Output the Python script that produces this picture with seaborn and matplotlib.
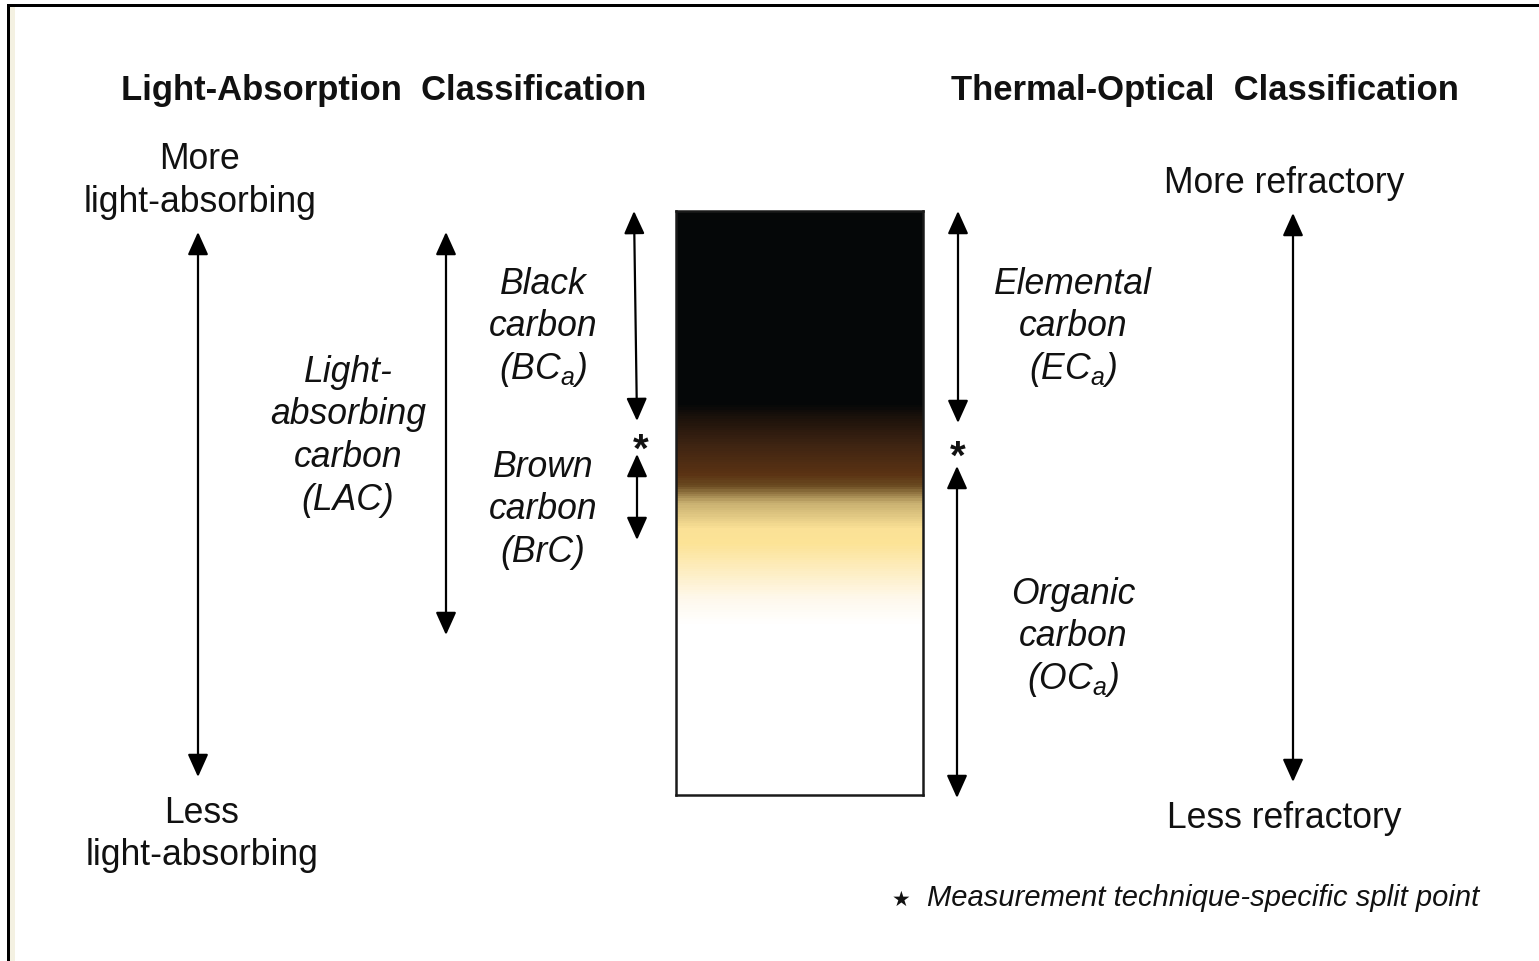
import numpy as np
import matplotlib
matplotlib.use('Agg')
import matplotlib.pyplot as plt
import seaborn as sns
from matplotlib.colors import LinearSegmentedColormap
from matplotlib.patches import Rectangle

# headings
left_title = 'Light-Absorption  Classification'
right_title = 'Thermal-Optical  Classification'

# scale labels
left_top = ['More', 'light-absorbing']
left_bottom = ['Less', 'light-absorbing']
right_top = ['More refractory']
right_bottom = ['Less refractory']

# italic class labels
class_labels = {
    'LAC': ['Light-', 'absorbing', 'carbon', '(LAC)'],
    'BC': ['Black', 'carbon', r'(BC$_a$)'],
    'BrC': ['Brown', 'carbon', '(BrC)'],
    'EC': ['Elemental', 'carbon', r'(EC$_a$)'],
    'OC': ['Organic', 'carbon', r'(OC$_a$)'],
}
footnote = 'Measurement technique-specific split point'

# colour of the carbon column, top (0) to bottom (1)
grad_pos = [0.0, 0.33, 0.356, 0.40, 0.45, 0.47, 0.50, 0.545, 0.57, 0.62, 0.665, 0.71, 1.0]
grad_colors = ['#050708', '#050708', '#1e130b', '#3e2412', '#5a3213', '#6a4a20', '#c8b070',
               '#fbe196', '#fce396', '#fdeec4', '#fef8ec', '#ffffff', '#ffffff']

W, H = 1539, 962
sns.set_theme(style='white')
plt.rcParams['font.family'] = ['Liberation Sans', 'DejaVu Sans']
plt.rcParams['mathtext.fontset'] = 'custom'
plt.rcParams['mathtext.rm'] = 'Liberation Sans:italic'
plt.rcParams['mathtext.it'] = 'Liberation Sans:italic'

fig = plt.figure(figsize=(W / 100, H / 100), dpi=100)
fig.patch.set_facecolor('white')
ax = fig.add_axes([0, 0, 1, 1])
ax.set_xlim(0, W)
ax.set_ylim(H, 0)
ax.axis('off')

# outer frame (top and left only visible)
ax.add_patch(Rectangle((10, 8), 5, H, color='#f4f1e2', lw=0))
ax.add_patch(Rectangle((7, 5), W, 3, color='black', lw=0))
ax.add_patch(Rectangle((7, 5), 3, H, color='black', lw=0))

# gradient column drawn as a one-column heatmap
col_x0, col_y0, col_w, col_h = 676, 212, 247, 584
cax = fig.add_axes([col_x0 / W, 1 - (col_y0 + col_h) / H, col_w / W, col_h / H])
cmap = LinearSegmentedColormap.from_list('carbon', list(zip(grad_pos, grad_colors)))
sns.heatmap(np.linspace(0, 1, col_h).reshape(-1, 1), cmap=cmap, vmin=0, vmax=1,
            cbar=False, xticklabels=False, yticklabels=False, ax=cax)
for s in cax.spines.values():
    s.set_visible(True)
    s.set_color('#1a1a1a')
    s.set_linewidth(1.8)

fs = 25.6


def stack(lines, x, y, gap=42.5, **kw):
    for i, t in enumerate(lines):
        ax.text(x, y + i * gap, t, ha='center', va='baseline', fontsize=fs, color='#111111', **kw)


ax.text(384, 100, left_title, ha='center', va='baseline', fontsize=24.9, fontweight='bold', color='#111111')
ax.text(1205, 100, right_title, ha='center', va='baseline', fontsize=24.9, fontweight='bold', color='#111111')

stack(left_top, 200, 169)
stack(left_bottom, 202, 823)
stack(right_top, 1284, 193)
stack(right_bottom, 1284, 828)

stack(class_labels['LAC'], 348, 382, style='italic')
stack(class_labels['BC'], 543, 294, style='italic')
stack(class_labels['BrC'], 543, 477, style='italic')
stack(class_labels['EC'], 1073, 294, style='italic')
stack(class_labels['OC'], 1073, 604, style='italic')

# double-headed arrows: (x_top, y_top, x_bottom, y_bottom)
arrows = [(198, 233, 198, 778), (446, 233, 446, 636), (634, 212, 637, 422),
          (637, 455, 637, 541), (958, 212, 958, 424), (957, 467, 957, 799),
          (1293, 214, 1293, 783)]
for x0, y0, x1, y1 in arrows:
    ax.annotate('', xy=(x0, y0), xytext=(x1, y1),
                arrowprops=dict(arrowstyle='<|-|>,head_length=1.0,head_width=0.45',
                                mutation_scale=14, lw=1.6, color='black',
                                shrinkA=0, shrinkB=0))

# split point markers
ax.text(641, 462, '*', ha='center', va='baseline', fontsize=29, fontweight='bold', color='#111111')
ax.text(958, 469, '*', ha='center', va='baseline', fontsize=29, fontweight='bold', color='#111111')

ax.text(901, 906, '★', ha='center', va='baseline', fontsize=15, color='#111111', family='DejaVu Sans')
ax.text(927, 906, footnote, ha='left', va='baseline', fontsize=21, style='italic', color='#111111')

fig.savefig('out.png', dpi=100)
